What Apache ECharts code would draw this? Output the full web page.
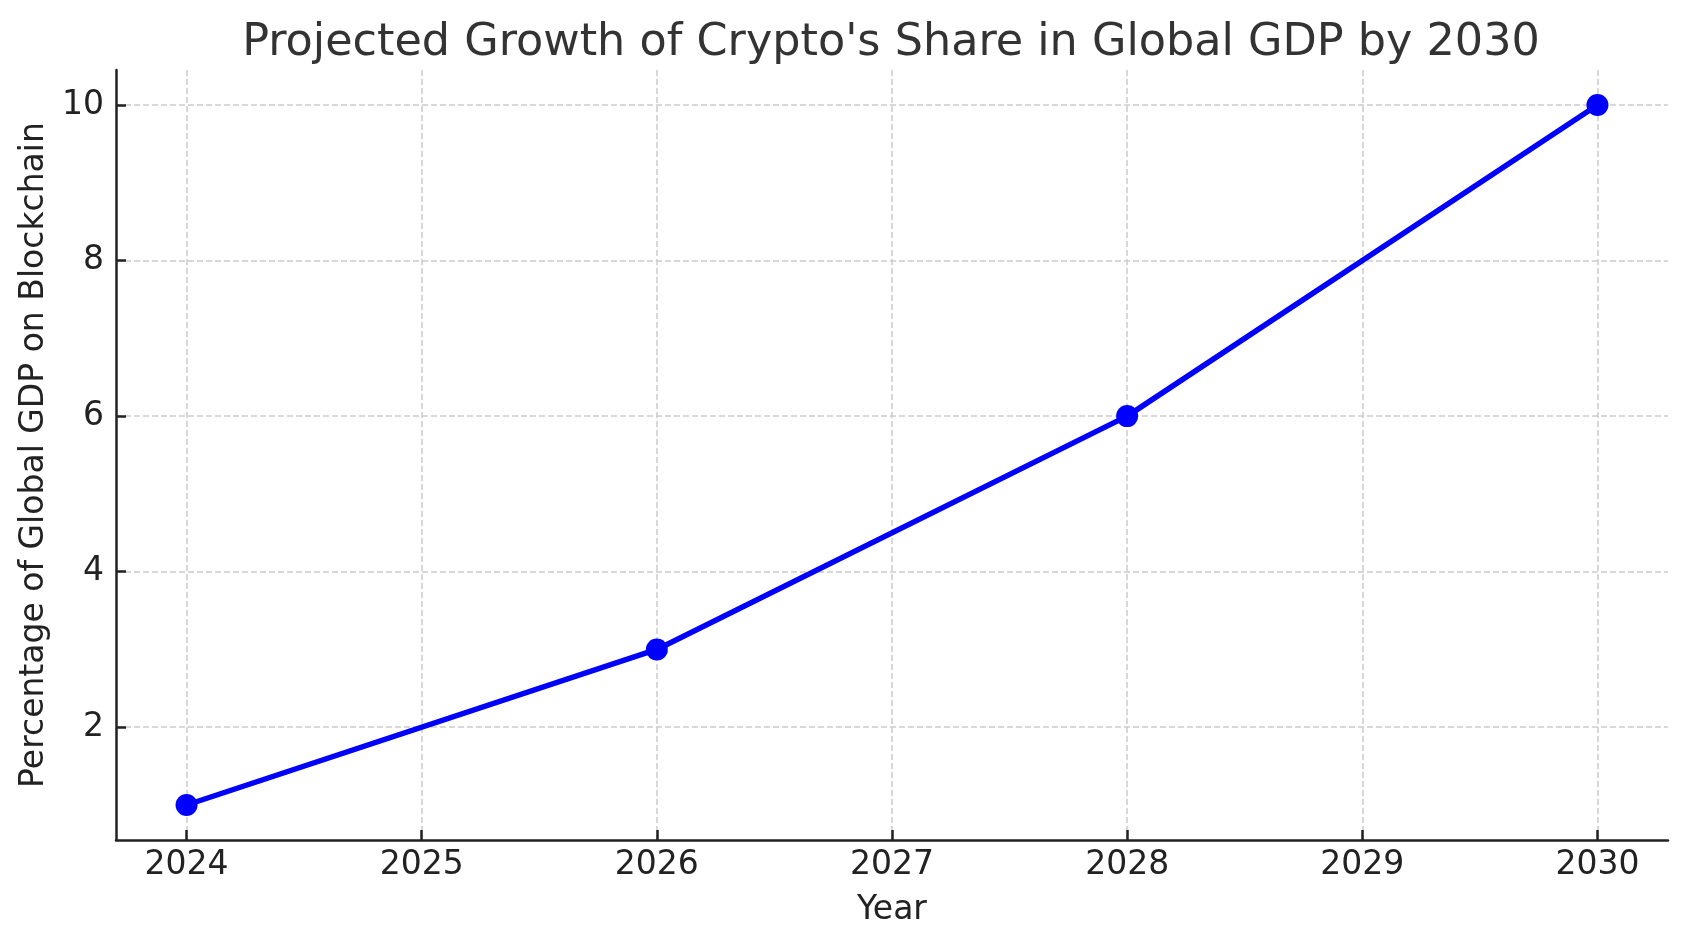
<!DOCTYPE html>
<html>
<head>
<meta charset="utf-8">
<script src="https://cdn.jsdelivr.net/npm/echarts@6/dist/echarts.min.js"></script>
<style>
html,body{margin:0;padding:0;background:#fff;}
#chart{width:1686px;height:947px;}
</style>
</head>
<body>
<div id="chart"></div>
<script>
const years = [2024, 2026, 2028, 2030];
const shares = [1, 3, 6, 10];
const xTicks = [2024, 2025, 2026, 2027, 2028, 2029, 2030];
const yTicks = [2, 4, 6, 8, 10];

const chart = echarts.init(document.getElementById('chart'));
const font = 'DejaVu Sans';
chart.setOption({
  backgroundColor: '#ffffff',
  animation: false,
  title: {
    text: "Projected Growth of Crypto's Share in Global GDP by 2030",
    left: 886,
    top: 16,
    textAlign: 'center',
    textStyle: { fontFamily: font, fontSize: 44.5, fontWeight: 'normal', color: '#333333' }
  },
  grid: { left: 116, right: 18, top: 70, bottom: 107, containLabel: false },
  xAxis: {
    type: 'value',
    min: 2023.7,
    max: 2030.3,
    name: 'Year',
    nameLocation: 'middle',
    nameGap: 54,
    nameTextStyle: { fontFamily: font, fontSize: 33, color: '#222222' },
    axisLine: { show: true, onZero: false, lineStyle: { color: '#222222', width: 2.5 } },
    axisTick: { show: true, inside: true, length: 10, customValues: xTicks, lineStyle: { color: '#222222', width: 2.5 } },
    axisLabel: { customValues: xTicks, margin: 9, fontFamily: font, fontSize: 33, color: '#222222', formatter: v => String(v) },
    splitLine: { show: true, lineStyle: { color: '#cccccc', width: 1.5, type: [6, 3] } }
  },
  yAxis: {
    type: 'value',
    min: 0.55,
    max: 10.45,
    name: 'Percentage of Global GDP on Blockchain',
    nameLocation: 'middle',
    nameGap: 61,
    nameRotate: 90,
    nameTextStyle: { fontFamily: font, fontSize: 33, color: '#222222' },
    axisLine: { show: true, onZero: false, lineStyle: { color: '#222222', width: 2.5 } },
    axisTick: { show: true, inside: true, length: 10, customValues: yTicks, lineStyle: { color: '#222222', width: 2.5 } },
    axisLabel: { customValues: yTicks, margin: 12, fontFamily: font, fontSize: 33, color: '#222222', formatter: v => String(v) },
    splitLine: { show: true, lineStyle: { color: '#cccccc', width: 1.5, type: [6, 3] } }
  },
  series: [{
    type: 'line',
    data: years.map((y, i) => [y, shares[i]]),
    symbol: 'circle',
    symbolSize: 22,
    showAllSymbol: true,
    lineStyle: { color: '#0000ff', width: 5.5 },
    itemStyle: { color: '#0000ff' },
    z: 5
  }]
});
</script>
</body>
</html>
